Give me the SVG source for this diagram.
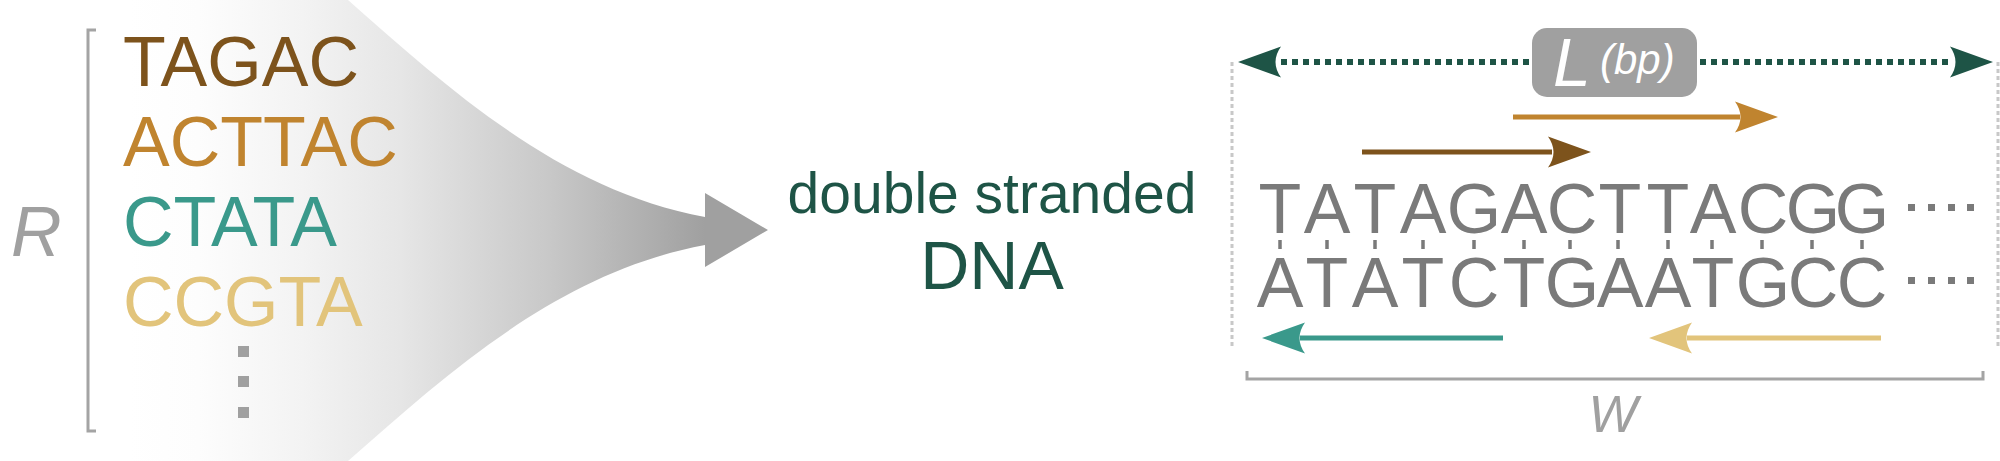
<svg xmlns="http://www.w3.org/2000/svg" xmlns:xlink="http://www.w3.org/1999/xlink" width="2000" height="461" viewBox="0 0 2000 461">
  <style>
    .sans { font-family: "Liberation Sans", Arial, sans-serif; }
    .seq { font-family: "Liberation Sans", Arial, sans-serif; font-size: 70px; }
    .dna { font-family: "Liberation Sans", Arial, sans-serif; font-size: 70px; fill: #7a7a7a; text-anchor: middle; }
    .lbl { font-family: "Liberation Sans", Arial, sans-serif; fill: #1e5446; text-anchor: middle; }
    .it { font-family: "Liberation Sans", Arial, sans-serif; font-style: italic; }
    .guide { stroke: #c8c8c8; stroke-width: 3; stroke-dasharray: 4 3; fill: none; }
    .bracket { stroke: #a4a4a4; stroke-width: 3; fill: none; }
    .tick { stroke: #7a7a7a; stroke-width: 3.5; }
  </style>
  <defs>
    <linearGradient id="funnelGrad" gradientUnits="userSpaceOnUse" x1="130" y1="0" x2="705" y2="0">
      <stop offset="0" stop-color="#ffffff"/>
      <stop offset="0.12" stop-color="#fdfdfd"/>
      <stop offset="0.30" stop-color="#f3f3f3"/>
      <stop offset="0.47" stop-color="#e6e6e6"/>
      <stop offset="0.73" stop-color="#c8c8c8"/>
      <stop offset="1" stop-color="#a0a0a0"/>
    </linearGradient>
    <path id="ah" d="M0,0 L-43,-15.5 Q-32,0 -43,15.5 Z"/>
  </defs>

  <rect width="2000" height="461" fill="#ffffff"/>

  <!-- funnel arrow -->
  <g id="funnel">
    <path d="M130,0 L348,0 C450,90 560,190 705,217 L705,193 L768,230 L705,267 L705,245 C560,272 450,371 348,461 L130,461 Z" fill="url(#funnelGrad)"/>
  </g>

  <!-- reads set R -->
  <g id="reads">
    <text class="it" x="11" y="256" font-size="70" fill="#a0a0a0">R</text>
    <path class="bracket" d="M96,30 L88,30 L88,431 L96,431"/>
    <text class="seq" x="123" y="86" fill="#7d531c">TAGAC</text>
    <text class="seq" x="123" y="166" fill="#c0842f">ACTTAC</text>
    <text class="seq" x="123" y="246" fill="#3a998b">CTATA</text>
    <text class="seq" x="123" y="326" fill="#e2c47b">CCGTA</text>
    <rect x="238" y="346" width="11" height="11" fill="#a0a0a0"/>
    <rect x="238" y="376" width="11" height="11" fill="#a0a0a0"/>
    <rect x="238" y="407" width="11" height="11" fill="#a0a0a0"/>
  </g>

  <!-- label -->
  <g id="dsdna-label">
    <text class="lbl" x="992" y="213" font-size="57">double stranded</text>
    <text class="lbl" x="992" y="289" font-size="68">DNA</text>
  </g>

  <!-- window -->
  <g id="window">
    <line class="guide" x1="1232" y1="62" x2="1232" y2="348"/>
    <line class="guide" x1="1998" y1="62" x2="1998" y2="348"/>
    <path class="bracket" d="M1247,371 L1247,379 L1983,379 L1983,371"/>
    <text class="it" x="1613" y="432" font-size="52" fill="#a0a0a0" text-anchor="middle">W</text>
  </g>

  <!-- double stranded sequence -->
  <g id="sequence">
    <text class="dna" y="233" x="1280 1327 1375 1423 1474 1524 1572 1620 1668 1713 1763 1813 1862">TATAGACTTACGG</text>
    <text class="dna" y="307" x="1280 1327 1375 1423 1474 1524 1572 1620 1668 1713 1763 1813 1862">ATATCTGAATGCC</text>
    <g class="tick">
      <line x1="1280" y1="240" x2="1280" y2="249"/>
      <line x1="1327" y1="240" x2="1327" y2="249"/>
      <line x1="1375" y1="240" x2="1375" y2="249"/>
      <line x1="1423" y1="240" x2="1423" y2="249"/>
      <line x1="1474" y1="240" x2="1474" y2="249"/>
      <line x1="1524" y1="240" x2="1524" y2="249"/>
      <line x1="1570" y1="240" x2="1570" y2="249"/>
      <line x1="1618" y1="240" x2="1618" y2="249"/>
      <line x1="1668" y1="240" x2="1668" y2="249"/>
      <line x1="1712" y1="240" x2="1712" y2="249"/>
      <line x1="1762" y1="240" x2="1762" y2="249"/>
      <line x1="1812" y1="240" x2="1812" y2="249"/>
      <line x1="1862" y1="240" x2="1862" y2="249"/>
    </g>
    <g fill="#7a7a7a">
      <rect x="1908" y="204" width="7" height="7"/>
      <rect x="1928" y="204" width="7" height="7"/>
      <rect x="1948" y="204" width="7" height="7"/>
      <rect x="1967" y="204" width="7" height="7"/>
      <rect x="1908" y="277" width="7" height="7"/>
      <rect x="1928" y="277" width="7" height="7"/>
      <rect x="1948" y="277" width="7" height="7"/>
      <rect x="1967" y="277" width="7" height="7"/>
    </g>
  </g>

  <!-- L (bp) label -->
  <g id="length-label">
    <rect x="1532" y="28" width="165" height="69" rx="15" ry="15" fill="#a0a0a0"/>
    <text class="it" x="1553" y="86" font-size="68" fill="#ffffff">L</text>
    <text class="it" x="1600" y="74" font-size="42" fill="#ffffff">(bp)</text>
  </g>

  <!-- connectors -->
  <g id="connectors">
    <line x1="1281" y1="62" x2="1532" y2="62" stroke="#1e5446" stroke-width="6" stroke-dasharray="6 5"/>
    <line x1="1700" y1="62" x2="1952" y2="62" stroke="#1e5446" stroke-width="6" stroke-dasharray="6 5"/>
    <use xlink:href="#ah" href="#ah" fill="#1e5446" transform="translate(1238,62) scale(-1,1)"/>
    <use xlink:href="#ah" href="#ah" fill="#1e5446" transform="translate(1993,62)"/>

    <line x1="1513" y1="117" x2="1740" y2="117" stroke="#c0842f" stroke-width="5"/>
    <use xlink:href="#ah" href="#ah" fill="#c0842f" transform="translate(1778,117)"/>

    <line x1="1362" y1="152" x2="1552" y2="152" stroke="#7d531c" stroke-width="5"/>
    <use xlink:href="#ah" href="#ah" fill="#7d531c" transform="translate(1591,152)"/>

    <line x1="1300" y1="338" x2="1503" y2="338" stroke="#3a998b" stroke-width="5"/>
    <use xlink:href="#ah" href="#ah" fill="#3a998b" transform="translate(1262,338) scale(-1,1)"/>

    <line x1="1687" y1="338" x2="1881" y2="338" stroke="#e2c47b" stroke-width="5"/>
    <use xlink:href="#ah" href="#ah" fill="#e2c47b" transform="translate(1649,338) scale(-1,1)"/>
  </g>
</svg>
